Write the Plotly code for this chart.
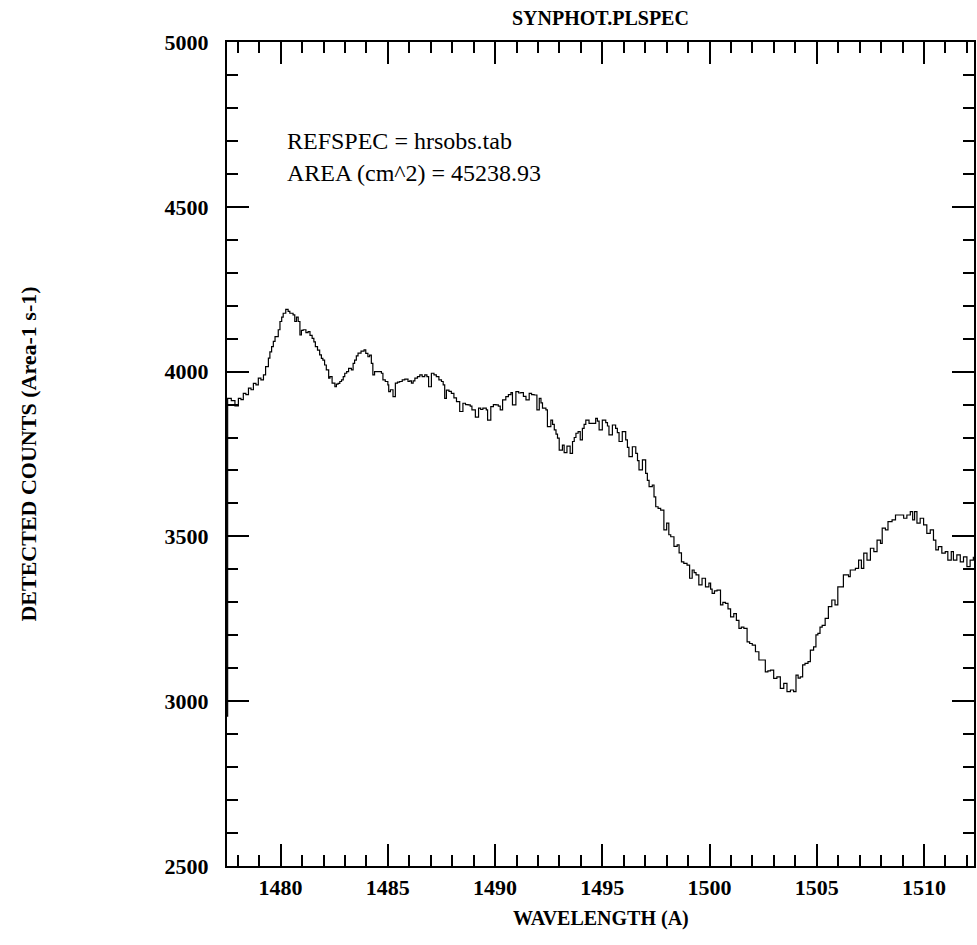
import plotly.graph_objects as go

# HRS observed spectrum, detected counts per unit area per second
wavelength = [
    1477.50, 1477.53, 1477.70, 1477.87, 1478.03, 1478.15, 1478.26, 1478.38, 1478.50, 1478.62,
    1478.73, 1478.85, 1478.96, 1479.08, 1479.20, 1479.30, 1479.43, 1479.50, 1479.58, 1479.66,
    1479.74, 1479.89, 1479.97, 1480.05, 1480.12, 1480.24, 1480.35, 1480.43, 1480.58, 1480.66,
    1480.74, 1480.82, 1480.90, 1480.97, 1481.05, 1481.18, 1481.28, 1481.37, 1481.47, 1481.55,
    1481.62, 1481.72, 1481.82, 1481.90, 1481.97, 1482.05, 1482.13, 1482.24, 1482.30, 1482.40,
    1482.53, 1482.60, 1482.68, 1482.76, 1482.84, 1482.92, 1482.99, 1483.08, 1483.17, 1483.30,
    1483.38, 1483.45, 1483.53, 1483.61, 1483.75, 1483.89, 1483.97, 1484.07, 1484.15, 1484.23,
    1484.30, 1484.38, 1484.54, 1484.62, 1484.70, 1484.77, 1484.88, 1485.00, 1485.04, 1485.12,
    1485.24, 1485.35, 1485.45, 1485.55, 1485.67, 1485.79, 1485.94, 1486.02, 1486.10, 1486.18,
    1486.26, 1486.38, 1486.49, 1486.60, 1486.72, 1486.82, 1486.90, 1487.03, 1487.15, 1487.26,
    1487.38, 1487.50, 1487.58, 1487.65, 1487.73, 1487.85, 1487.96, 1488.08, 1488.20, 1488.35,
    1488.50, 1488.62, 1488.74, 1488.84, 1488.92, 1489.08, 1489.23, 1489.33, 1489.43, 1489.59,
    1489.65, 1489.80, 1489.92, 1490.04, 1490.15, 1490.24, 1490.35, 1490.50, 1490.62, 1490.74,
    1490.81, 1490.97, 1491.10, 1491.20, 1491.32, 1491.44, 1491.59, 1491.70, 1491.82, 1491.95,
    1492.06, 1492.14, 1492.21, 1492.37, 1492.44, 1492.60, 1492.68, 1492.76, 1492.84, 1492.91,
    1492.99, 1493.14, 1493.22, 1493.35, 1493.50, 1493.61, 1493.69, 1493.77, 1493.87, 1493.97,
    1494.07, 1494.15, 1494.23, 1494.38, 1494.54, 1494.69, 1494.77, 1494.85, 1495.00, 1495.16,
    1495.24, 1495.31, 1495.47, 1495.62, 1495.70, 1495.78, 1495.93, 1496.09, 1496.17, 1496.24,
    1496.40, 1496.56, 1496.64, 1496.71, 1496.87, 1497.02, 1497.10, 1497.18, 1497.33, 1497.41,
    1497.49, 1497.60, 1497.72, 1497.87, 1498.00, 1498.10, 1498.19, 1498.34, 1498.49, 1498.58,
    1498.69, 1498.80, 1498.95, 1499.07, 1499.19, 1499.28, 1499.37, 1499.50, 1499.65, 1499.81,
    1499.97, 1500.05, 1500.12, 1500.23, 1500.35, 1500.51, 1500.62, 1500.74, 1500.86, 1500.98,
    1501.13, 1501.25, 1501.37, 1501.48, 1501.60, 1501.75, 1501.87, 1501.99, 1502.14, 1502.30,
    1502.45, 1502.60, 1502.72, 1502.84, 1502.99, 1503.14, 1503.30, 1503.46, 1503.61, 1503.77,
    1503.92, 1504.03, 1504.13, 1504.23, 1504.34, 1504.45, 1504.59, 1504.70, 1504.85, 1504.96,
    1505.05, 1505.15, 1505.25, 1505.39, 1505.54, 1505.70, 1505.85, 1505.98, 1506.16, 1506.24,
    1506.48, 1506.56, 1506.80, 1506.95, 1507.08, 1507.19, 1507.34, 1507.50, 1507.66, 1507.81,
    1507.97, 1508.05, 1508.20, 1508.32, 1508.51, 1508.67, 1508.90, 1509.05, 1509.20, 1509.36,
    1509.47, 1509.56, 1509.67, 1509.82, 1509.98, 1510.13, 1510.29, 1510.44, 1510.55, 1510.67,
    1510.83, 1510.99, 1511.11, 1511.27, 1511.37, 1511.53, 1511.69, 1511.84, 1512.00, 1512.15,
    1512.30,
]

counts = [
    2955, 3919, 3912, 3896, 3919, 3915, 3934, 3930, 3950, 3945,
    3964, 3960, 3980, 3975, 3990, 4015, 4041, 4060, 4076, 4092,
    4106, 4127, 4152, 4165, 4177, 4189, 4183, 4177, 4172, 4152,
    4165, 4152, 4111, 4125, 4127, 4118, 4121, 4110, 4101, 4090,
    4076, 4065, 4051, 4040, 4035, 4020, 4005, 3980, 3985, 3965,
    3954, 3962, 3964, 3970, 3975, 3985, 3995, 4000, 4010, 4005,
    4025, 4035, 4048, 4056, 4062, 4066, 4055, 4045, 4050, 4025,
    3990, 4000, 4000, 4000, 3995, 3975, 3970, 3960, 3939, 3945,
    3924, 3965, 3968, 3970, 3975, 3977, 3970, 3972, 3965, 3972,
    3980, 3985, 3990, 3985, 3990, 3985, 3954, 3995, 3990, 3985,
    3975, 3970, 3960, 3919, 3944, 3940, 3934, 3920, 3909, 3879,
    3904, 3900, 3899, 3895, 3884, 3862, 3889, 3885, 3889, 3884,
    3853, 3894, 3900, 3899, 3895, 3884, 3914, 3924, 3930, 3936,
    3899, 3939, 3935, 3936, 3925, 3914, 3934, 3930, 3929, 3884,
    3919, 3905, 3889, 3884, 3833, 3853, 3840, 3823, 3810, 3798,
    3762, 3777, 3754, 3774, 3752, 3788, 3800, 3813, 3818, 3793,
    3828, 3840, 3853, 3843, 3843, 3858, 3850, 3823, 3853, 3845,
    3835, 3808, 3838, 3828, 3815, 3788, 3818, 3793, 3770, 3742,
    3772, 3752, 3730, 3702, 3732, 3691, 3670, 3651, 3656, 3620,
    3590, 3585, 3580, 3520, 3540, 3505, 3499, 3470, 3474, 3450,
    3423, 3418, 3413, 3373, 3398, 3390, 3383, 3353, 3373, 3347,
    3358, 3340, 3327, 3335, 3337, 3292, 3300, 3297, 3280, 3256,
    3266, 3245, 3221, 3225, 3221, 3180, 3175, 3170, 3150, 3125,
    3125, 3089, 3092, 3094, 3069, 3074, 3039, 3054, 3029, 3034,
    3029, 3079, 3070, 3074, 3110, 3115, 3120, 3155, 3165, 3201,
    3206, 3225, 3230, 3251, 3287, 3307, 3292, 3347, 3347, 3383,
    3378, 3398, 3403, 3428, 3403, 3449, 3428, 3464, 3454, 3489,
    3479, 3525, 3520, 3545, 3550, 3565, 3565, 3555, 3565, 3575,
    3550, 3575, 3540, 3555, 3535, 3509, 3520, 3489, 3459, 3469,
    3449, 3454, 3428, 3454, 3428, 3444, 3423, 3438, 3408, 3428,
    3438,
]

x_range = [1477.5, 1512.33]
y_range = [2500, 5000]
x_ticks = [1480, 1485, 1490, 1495, 1500, 1505, 1510]
y_ticks = [2500, 3000, 3500, 4000, 4500, 5000]

plot_title = "SYNPHOT.PLSPEC"
x_title = "WAVELENGTH (A)"
y_title = "DETECTED COUNTS (Area-1 s-1)"
info_lines = ["REFSPEC = hrsobs.tab", "AREA (cm^2) = 45238.93"]

SERIF = "Liberation Serif, Times New Roman, serif"
tick_font = dict(family=SERIF, size=22, color="black", weight="bold")
title_font = dict(family=SERIF, size=20, color="black", weight="bold")
ytitle_font = dict(family=SERIF, size=22, color="black", weight="bold")
plain_font = dict(family=SERIF, size=24, color="black")

fig = go.Figure()
fig.add_trace(go.Scatter(
    x=wavelength, y=counts, mode="lines",
    line=dict(color="black", width=1.2, shape="hv"),
    hoverinfo="x+y", showlegend=False,
))

axis_common = dict(
    showgrid=False, zeroline=False,
    showline=True, linecolor="black", linewidth=2,
    mirror="ticks", ticks="inside", ticklen=22, tickwidth=2, tickcolor="black",
    tickfont=tick_font,
)

fig.update_xaxes(
    range=x_range, tickvals=x_ticks,
    minor=dict(dtick=1, tick0=1477, ticks="inside", ticklen=11, tickwidth=2, tickcolor="black"),
    ticklabelstandoff=1,
    **axis_common,
)
fig.update_yaxes(
    range=y_range, tickvals=y_ticks,
    minor=dict(dtick=100, tick0=2500, ticks="inside", ticklen=11, tickwidth=2, tickcolor="black"),
    ticklabelstandoff=12,
    **axis_common,
)

annotations = [
    dict(text=plot_title, x=0.5, y=1.0295, xref="paper", yref="paper",
         showarrow=False, font=title_font, xanchor="center", yanchor="middle"),
    dict(text=x_title, x=0.5, y=-0.0635, xref="paper", yref="paper",
         showarrow=False, font=title_font, xanchor="center", yanchor="middle"),
    dict(text=y_title, x=-0.267, y=0.5, xref="paper", yref="paper", textangle=-90,
         showarrow=False, font=ytitle_font, xanchor="center", yanchor="middle"),
]
for i, line in enumerate(info_lines):
    annotations.append(dict(
        text=line, x=0.078, y=0.8795 - i * 0.039, xref="paper", yref="paper",
        showarrow=False, font=plain_font, xanchor="left", yanchor="middle",
    ))

fig.update_layout(
    width=977, height=945,
    margin=dict(l=227, r=1, t=42, b=79, pad=0),
    paper_bgcolor="white", plot_bgcolor="white",
    annotations=annotations,
    showlegend=False,
)

fig.write_html("out.html")
